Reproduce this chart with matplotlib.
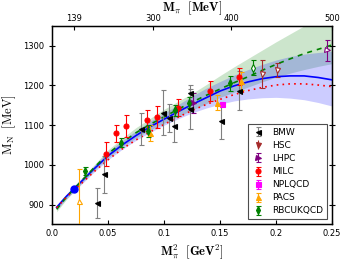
import matplotlib
matplotlib.use('Agg')
import matplotlib.pyplot as plt
import numpy as np

plt.rcParams['mathtext.fontset'] = 'cm'

# lattice data: M_pi^2 [GeV^2], M_N [MeV], error [MeV]
bmw_x = [0.040, 0.046, 0.079, 0.099, 0.104, 0.109, 0.123, 0.123, 0.1506, 0.167]
bmw_y = [904, 976, 1090, 1131, 1118, 1098, 1181, 1141, 1110, 1187]
bmw_err = [37, 46, 41, 57, 35, 40, 20, 50, 45, 50]

milc_x = [0.048, 0.057, 0.0655, 0.085, 0.094, 0.1128, 0.1405, 0.1672]
milc_y = [1028, 1079, 1097, 1112, 1121, 1144, 1185, 1222]
milc_err = [30, 22, 28, 27, 28, 21, 25, 22]

hsc_x = [0.187, 0.2012]  # open symbols (not in fit)
hsc_y = [1228, 1239]
hsc_err = [35, 18]

lhpc_x = [0.126]
lhpc_y = [1155]
lhpc_err = [25]
lhpc_open_x = [0.2452]
lhpc_open_y = [1288]
lhpc_open_err = [27]

npl_x = [0.152]
npl_y = [1153]
npl_err = [4]

pacs_x = [0.0875, 0.1476, 0.169]
pacs_y = [1080, 1157, 1211]
pacs_err = [20, 20, 22]
pacs_open_x = [0.0238]
pacs_open_y = [910]
pacs_open_err = [80]

rbc_x = [0.029, 0.0613, 0.086, 0.1098, 0.1222, 0.159]
rbc_y = [985, 1056, 1086, 1137, 1156, 1205]
rbc_err = [10, 12, 15, 14, 14, 18]
rbc_open_x = [0.179]
rbc_open_y = [1245]
rbc_open_err = [19]

phys_x = [0.0193]
phys_y = [940]

# fit curves and bands
fit_x = [0.004, 0.0125, 0.025, 0.0375, 0.05, 0.0625, 0.075, 0.0875, 0.1, 0.1125, 0.125,
         0.1375, 0.15, 0.1625, 0.175, 0.1875, 0.2, 0.2125, 0.225, 0.2375, 0.25]
blue_fit = [893, 920, 955, 990, 1023, 1050, 1074, 1096, 1115, 1134, 1152,
            1169, 1186, 1199, 1209, 1217, 1222, 1224, 1224, 1220, 1214]
blue_lo = [887, 914, 948, 982, 1013, 1039, 1062, 1082, 1100, 1116, 1131,
           1143, 1153, 1161, 1166, 1169, 1170, 1168, 1164, 1157, 1148]
blue_hi = [899, 926, 962, 998, 1033, 1061, 1086, 1110, 1130, 1152, 1173,
           1193, 1210, 1226, 1240, 1253, 1264, 1273, 1279, 1283, 1286]
green_fit = [888, 918, 956, 993, 1028, 1056, 1081, 1102, 1121, 1140, 1158,
             1175, 1191, 1207, 1222, 1238, 1253, 1267, 1280, 1291, 1302]
green_lo = [882, 912, 950, 986, 1018, 1045, 1068, 1088, 1105, 1122, 1138,
            1154, 1170, 1183, 1196, 1209, 1221, 1231, 1240, 1248, 1255]
green_hi = [894, 924, 962, 1000, 1038, 1067, 1094, 1117, 1140, 1160, 1180,
            1202, 1225, 1247, 1268, 1289, 1310, 1330, 1350, 1368, 1385]
red_fit = [892, 918, 950, 983, 1013, 1040, 1063, 1083, 1102, 1120, 1137,
           1152, 1165, 1177, 1187, 1195, 1201, 1204, 1204, 1201, 1197]

top_ticks_mev = [139, 300, 400, 500]


def add_points(ax, x, y, err, color, marker, hollow=False, ecolor=None, label=None):
    """Draws one group of lattice points with error bars."""
    return ax.errorbar(x, y, yerr=err, fmt=marker, color=color, ecolor=ecolor or color,
                       mfc='white' if hollow else color, mec=color, ms=3.6, mew=0.8,
                       elinewidth=0.8, capsize=1.8, capthick=0.8, label=label, zorder=4)


fig, ax = plt.subplots(figsize=(3.5, 2.64), dpi=100)
fig.subplots_adjust(left=0.149, right=0.949, bottom=0.150, top=0.902)

# bands first, then curves
ax.fill_between(fit_x, green_lo, green_hi, color='green', alpha=0.2, lw=0, zorder=1)
ax.fill_between(fit_x, blue_lo, blue_hi, color='blue', alpha=0.2, lw=0, zorder=1)
ax.plot(fit_x, blue_fit, color='blue', lw=1.2, zorder=3)
ax.plot(fit_x, green_fit, color='green', lw=1.2, ls=(0, (3, 3)), zorder=3)
ax.plot(fit_x, red_fit, color='red', lw=1.2, ls=(0, (1, 2.5)), zorder=3)

h_bmw = add_points(ax, bmw_x, bmw_y, bmw_err, 'black', '<', ecolor='gray', label='BMW')
add_points(ax, hsc_x, hsc_y, hsc_err, 'brown', 'v', hollow=True)
h_hsc = add_points(ax, [], [], [], 'brown', 'v', label='HSC')
h_lhpc = add_points(ax, lhpc_x, lhpc_y, lhpc_err, 'purple', '>', label='LHPC')
add_points(ax, lhpc_open_x, lhpc_open_y, lhpc_open_err, 'purple', '>', hollow=True)
h_milc = add_points(ax, milc_x, milc_y, milc_err, 'red', 'o', label='MILC')
h_npl = add_points(ax, npl_x, npl_y, npl_err, 'magenta', 's', label='NPLQCD')
h_pacs = add_points(ax, pacs_x, pacs_y, pacs_err, 'orange', '^', label='PACS')
add_points(ax, pacs_open_x, pacs_open_y, pacs_open_err, 'orange', '^', hollow=True)
h_rbc = add_points(ax, rbc_x, rbc_y, rbc_err, 'green', 'd', label='RBCUKQCD')
add_points(ax, rbc_open_x, rbc_open_y, rbc_open_err, 'green', 'd', hollow=True)

# physical point
ax.plot(phys_x, phys_y, 'o', color='blue', ms=5, zorder=5)

ax.set_xlim(0, 0.25)
ax.set_ylim(850, 1350)
ax.set_xticks([0.0, 0.05, 0.1, 0.15, 0.2, 0.25])
ax.set_xticklabels(['0.0', '0.05', '0.1', '0.15', '0.2', '0.25'])
ax.set_yticks([900, 1000, 1100, 1200, 1300])
ax.tick_params(labelsize=6, direction='in', length=3, width=0.8, right=True)
ax.tick_params(axis='y', which='both', left=True, direction='inout', length=4)
for s in ax.spines.values():
    s.set_linewidth(1.0)

ax.set_xlabel(r'$\mathbf{M_\pi^2}\ \ \mathbf{[GeV^2]}$', fontsize=9, labelpad=3)
ax.set_ylabel(r'$\mathrm{M_N}\ \ \mathrm{[MeV]}$', fontsize=9, labelpad=4)

# top axis in pion mass
ax2 = ax.twiny()
ax2.set_xlim(ax.get_xlim())
ax2.set_xticks([(m / 1000.0) ** 2 for m in top_ticks_mev])
ax2.set_xticklabels([str(m) for m in top_ticks_mev])
ax2.tick_params(labelsize=6, direction='in', length=3, width=0.8, pad=2)
ax2.set_xlabel(r'$\mathbf{M_\pi}\ \ \mathbf{[MeV]}$', fontsize=9, labelpad=2)

leg = ax.legend([h_bmw, h_hsc, h_lhpc, h_milc, h_npl, h_pacs, h_rbc],
                ['BMW', 'HSC', 'LHPC', 'MILC', 'NPLQCD', 'PACS', 'RBCUKQCD'],
                loc='lower right', fontsize=6.5, fancybox=False, framealpha=1,
                edgecolor='0.3', handlelength=1.5, borderaxespad=0.6, labelspacing=0.45)
leg.get_frame().set_linewidth(0.8)

fig.savefig('out.png', dpi=100)
plt.close(fig)
